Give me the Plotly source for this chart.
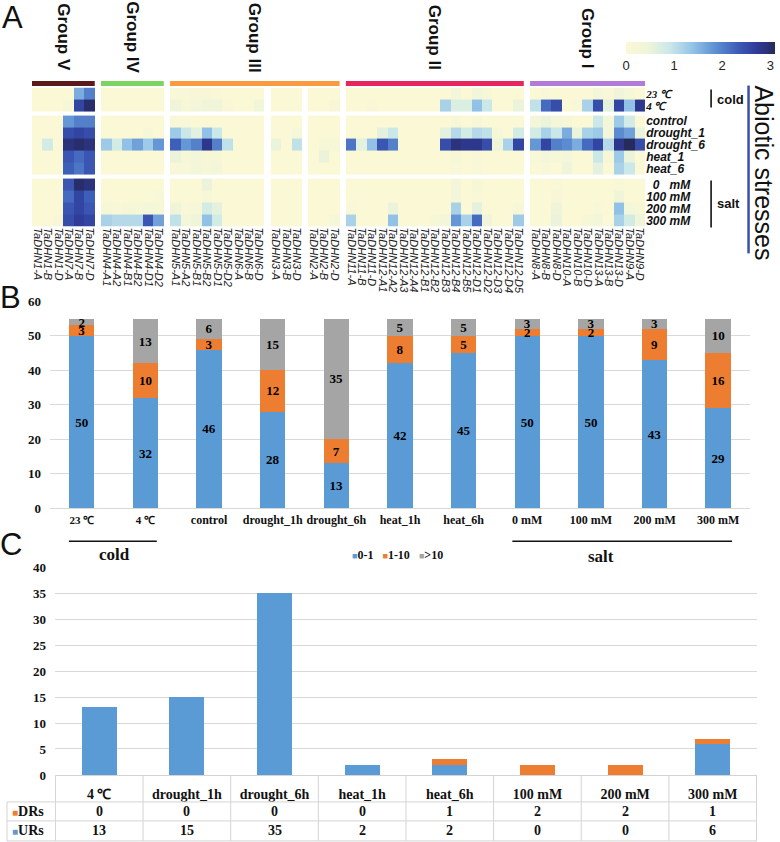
import plotly.graph_objects as go

W, H = 780, 842
SANS = "Liberation Sans, Arial, sans-serif"
SERIF = "Liberation Serif, Times New Roman, serif"

# ---------------- Panel A data ----------------
group_names = ["Group V", "Group IV", "Group III", "Group II", "Group I"]
group_colors = ["#5a1a1c", "#7ed462", "#f79a40", "#e8265e", "#b07cd8"]
genes_V = ["TaDHN1-A", "TaDHN1-B", "TaDHN1-D", "TaDHN7-A", "TaDHN7-B", "TaDHN7-D"]
genes_IV = ["TaDHN4-A1", "TaDHN4-A2", "TaDHN4-B1", "TaDHN4-B2", "TaDHN4-D1", "TaDHN4-D2"]
genes_III_a = ["TaDHN5-A1", "TaDHN5-A2", "TaDHN5-B1", "TaDHN5-B2", "TaDHN5-D1", "TaDHN5-D2",
               "TaDHN6-A", "TaDHN6-B", "TaDHN6-D"]
genes_III_b = ["TaDHN3-A", "TaDHN3-B", "TaDHN3-D"]
genes_III_c = ["TaDHN2-A", "TaDHN2-B", "TaDHN2-D"]
genes_II = ["TaDHN11-A", "TaDHN11-B", "TaDHN11-D", "TaDHN12-A1", "TaDHN12-A2", "TaDHN12-A3",
            "TaDHN12-A4", "TaDHN12-B1", "TaDHN12-B2", "TaDHN12-B3", "TaDHN12-B4", "TaDHN12-B5",
            "TaDHN12-D1", "TaDHN12-D2", "TaDHN12-D3", "TaDHN12-D4", "TaDHN12-D5"]
genes_I = ["TaDHN8-A", "TaDHN8-B", "TaDHN8-D", "TaDHN10-A", "TaDHN10-B", "TaDHN10-D",
           "TaDHN13-A", "TaDHN13-B", "TaDHN13-D", "TaDHN9-A", "TaDHN9-D"]
gene_blocks = [genes_V, genes_IV, genes_III_a, genes_III_b, genes_III_c, genes_II, genes_I]
block_group = [0, 1, 2, 2, 2, 3, 4]

conditions = ["23 ℃", "4 ℃", "control", "drought_1", "drought_6", "heat_1", "heat_6",
              "0 mM", "100 mM", "200 mM", "300 mM"]
row_blocks = [2, 5, 4]

#          V                            IV                          III-a                                      III-b        III-c          II                                                                              I
v_23C = [0, 0, 0, 0, 1.6, 2.0] + [0, 0, 0, 0, 0, 0] + [0.1, 0.1, 0.15, 0.15, 0.1, 0, 0, 0, 0] + [0, 0, 0] + [0, 0, 0] + [0, 0, 0, 0, 0, 0, 0, 0, 0, 0, 0.3, 0, 0.35, 0.2, 0, 0, 0] + [0, 0.1, 0, 0, 0, 0, 0.3, 0.1, 0.4, 0.2, 0]
v_4C = [0, 0, 0, 0.2, 2.6, 3.0] + [0, 0, 0, 0, 0, 0] + [0.4, 0.2, 0.3, 0.4, 0.4, 0.1, 0, 0, 0.35] + [0, 0, 0] + [0, 0, 0.15] + [0, 0, 0.1, 0, 0, 0, 0, 0, 0, 1.2, 0.7, 0.7, 1.4, 0.9, 0, 0, 0.5] + [1.0, 2.2, 2.5, 0, 0.1, 1.2, 2.5, 0.6, 2.6, 1.4, 2.8]
v_control = [0, 0, 0, 1.8, 2.0, 2.0] + [0, 0, 0, 0, 0, 0] + [0.1, 0.1, 0, 0, 0, 0, 0, 0, 0] + [0, 0, 0] + [0, 0, 0] + [0, 0, 0, 0, 0, 0, 0, 0, 0, 0, 0.2, 0, 0.15, 0, 0, 0, 0] + [0.3, 0.5, 0.3, 0.2, 0, 0, 0.9, 0.3, 1.3, 0.8, 0]
v_drought1 = [0, 0, 0, 2.5, 2.6, 2.5] + [0, 0, 0, 0, 0.2, 0] + [1.3, 0.9, 0.6, 1.4, 0.9, 0, 0, 0, 0] + [0, 0, 0.2] + [0, 0, 0] + [0, 0, 0, 0.6, 0.9, 0, 0, 0, 0, 0.6, 1.1, 0.8, 1.1, 1.0, 0.2, 0, 0.8] + [0.8, 1.2, 0.9, 1.6, 0.5, 1.2, 1.3, 0.3, 1.9, 1.7, 0.5]
v_drought6 = [0, 0.8, 0, 2.9, 3.0, 2.9] + [1.3, 0.8, 1.4, 1.7, 1.3, 1.8] + [2.3, 1.8, 2.0, 2.8, 2.0, 1.0, 0, 0, 0] + [0.5, 0, 1.0] + [0, 0.2, 0.2] + [2.1, 0.6, 1.4, 2.4, 2.0, 0, 0, 0, 0, 2.5, 2.9, 2.8, 2.8, 2.5, 0.4, 1.2, 2.6] + [1.8, 2.6, 2.0, 1.9, 1.6, 2.2, 2.6, 1.1, 2.8, 3.1, 2.5]
v_heat1 = [0, 0, 0, 2.4, 2.2, 2.4] + [0, 0, 0, 0, 0, 0] + [0.5, 0.2, 0.3, 0.2, 0.2, 0, 0, 0, 0] + [0, 0, 0] + [0, 0.5, 0] + [0, 0, 0, 0, 0, 0, 0, 0, 0, 0, 0.2, 0, 0.1, 0, 0, 0, 0] + [0.1, 0.3, 0.2, 0.3, 0, 0, 0.9, 0.2, 1.3, 0.5, 0]
v_heat6 = [0, 0, 0, 2.3, 2.1, 2.4] + [0, 0, 0, 0, 0, 0] + [0.1, 0.1, 0.3, 0.2, 0.3, 0, 0, 0, 0] + [0, 0, 0] + [0, 0, 0] + [0, 0, 0, 0, 0, 0, 0, 0, 0, 0, 0.1, 0, 0.1, 0, 0, 0, 0] + [0, 0.1, 0, 0.4, 0, 0, 0.6, 0, 1.2, 0.9, 0]
v_salt0 = [0, 0, 0, 2.4, 3.0, 2.9] + [0, 0, 0, 0, 0, 0] + [0, 0, 0, 0.5, 0, 0, 0, 0, 0] + [0, 0, 0] + [0, 0, 0] + [0, 0, 0, 0, 0, 0, 0, 0, 0, 0, 0.3, 0, 0.2, 0, 0, 0, 0] + [0, 0, 0.1, 0, 0, 0, 0, 0, 0.1, 0, 0]
v_salt100 = [0, 0, 0, 2.2, 2.6, 2.3] + [0, 0, 0, 0, 0, 0.1] + [0, 0, 0, 0.2, 0, 0, 0, 0, 0] + [0, 0, 0] + [0, 0, 0] + [0, 0, 0, 0, 0, 0, 0, 0, 0, 0, 0.3, 0, 0.1, 0, 0, 0, 0] + [0, 0, 0.15, 0, 0, 0, 0, 0, 0.4, 0, 0]
v_salt200 = [0, 0, 0, 2.4, 2.6, 2.4] + [0.2, 0.1, 0.2, 0.2, 0.3, 0.2] + [0.4, 0.1, 0.2, 0.8, 0.6, 0, 0, 0, 0] + [0, 0, 0] + [0, 0, 0] + [0.1, 0, 0, 0, 0.5, 0, 0, 0, 0, 0, 1.2, 0, 0.6, 0, 0, 0, 0.2] + [0, 0, 0.4, 0, 0, 0, 0.1, 0, 1.4, 0.3, 0.2]
v_salt300 = [0, 0, 0.1, 2.5, 2.7, 2.6] + [1.2, 1.1, 1.1, 1.1, 2.4, 1.7] + [1.0, 0.3, 0.4, 1.4, 0.8, 0, 0, 0, 0] + [0, 0, 0] + [0, 0, 0.2] + [1.2, 0, 0, 0, 1.4, 0, 0, 0, 0.2, 0.3, 1.8, 1.2, 2.2, 0.4, 0, 0, 1.3] + [0, 0, 0.5, 0, 0, 0.2, 0.3, 0, 1.2, 0.8, 0.4]
row_values = [v_23C, v_4C, v_control, v_drought1, v_drought6, v_heat1, v_heat6,
              v_salt0, v_salt100, v_salt200, v_salt300]

heat_colorscale = [[0.0, "#fbf8d6"], [0.15, "#eef5d9"], [0.3, "#c9e7ea"], [0.45, "#92c2e6"],
                   [0.6, "#5e8fd2"], [0.75, "#3c5cb8"], [0.88, "#2f3a98"], [1.0, "#262a5c"]]

# ---------------- Panel B data ----------------
b_categories = ["23 ℃", "4 ℃", "control", "drought_1h", "drought_6h", "heat_1h", "heat_6h",
                "0 mM", "100 mM", "200 mM", "300 mM"]
b_low = [50, 32, 46, 28, 13, 42, 45, 50, 50, 43, 29]      # 0-1
b_mid = [3, 10, 3, 12, 7, 8, 5, 2, 2, 9, 16]              # 1-10
b_high = [2, 13, 6, 15, 35, 5, 5, 3, 3, 3, 10]            # >10
b_names = ["0-1", "1-10", ">10"]

# ---------------- Panel C data ----------------
c_categories = ["4 ℃", "drought_1h", "drought_6h", "heat_1h", "heat_6h", "100 mM", "200 mM", "300 mM"]
c_URs = [13, 15, 35, 2, 2, 0, 0, 6]
c_DRs = [0, 0, 0, 0, 1, 2, 2, 1]

BLUE, ORANGE, GRAY = "#5b9bd5", "#ed7d31", "#a5a5a5"

# vertical calibration of the rendered page (observed: screen_y ~ 0.983 * y + 6.4)
V_SCALE, V_SHIFT = 0.983, 6.4


def px(x):
    return min(1.0, max(0.0, x / W))


def py(y, clamp=True):
    v = 1 - ((y - V_SHIFT) / V_SCALE) / H
    return min(1.0, max(0.0, v)) if clamp else v


# ---------- build heatmap geometry (cell edges with narrow gaps) ----------
col_w, col_gap = 1.0, 0.6
x_edges = [0.0]
col_map = []
gene_centers, gene_labels, block_spans = [], [], []
pos = 0.0
ci = 0
for bi, genes in enumerate(gene_blocks):
    if bi > 0:
        pos += col_gap
        x_edges.append(pos)
        col_map.append(None)
    start = pos
    for g in genes:
        gene_centers.append(pos + col_w / 2)
        gene_labels.append("<i>" + g + "</i>")
        pos += col_w
        x_edges.append(pos)
        col_map.append(ci)
        ci += 1
    block_spans.append((start, pos))
x_total = pos

row_h, row_gap = 1.0, 0.3
y_edges = [0.0]
row_map = []
row_centers = []
pos = 0.0
ri = 0
for bi, n in enumerate(row_blocks):
    if bi > 0:
        pos += row_gap
        y_edges.append(pos)
        row_map.append(None)
    for _ in range(n):
        row_centers.append(pos + row_h / 2)
        pos += row_h
        y_edges.append(pos)
        row_map.append(ri)
        ri += 1
y_total = pos

z = []
for r in row_map:
    if r is None:
        z.append([None] * len(col_map))
    else:
        z.append([row_values[r][c] if c is not None else None for c in col_map])

row_ticktext = []
for c in conditions:
    if "℃" in c:
        row_ticktext.append("<span style='font-family:Liberation Serif;font-size:11px'><b><i>" + c + "</i></b></span>")
    elif c == "0 mM":
        row_ticktext.append("<b><i>\u00a0\u00a00\u00a0\u00a0\u00a0mM</i></b>")
    else:
        row_ticktext.append("<b><i>" + c + "</i></b>")

fig = go.Figure()

fig.add_trace(go.Heatmap(
    z=z, x=x_edges, y=y_edges, zmin=0, zmax=3.1, colorscale=heat_colorscale,
    hoverongaps=False, xaxis="x", yaxis="y",
    colorbar=dict(orientation="h", x=px(701.5), xanchor="center", y=py(41), yanchor="top",
                  len=149 / W, lenmode="fraction", thickness=12, outlinewidth=0,
                  xpad=0, ypad=0, tickvals=[0, 1, 2, 3], ticks="",
                  tickfont=dict(family=SANS, size=13, color="#222")),
))

# ---------- Panel B stacked bars ----------
b_ticktext = []
for c in b_categories:
    if "℃" in c:
        b_ticktext.append("<span style='font-size:11px'><b>" + c + "</b></span>")
    else:
        b_ticktext.append("<b>" + c + "</b>")

for vals, name, col in zip([b_low, b_mid, b_high], b_names, [BLUE, ORANGE, GRAY]):
    fig.add_trace(go.Bar(
        x=b_categories, y=vals, name=name, marker=dict(color=col, line=dict(width=0)),
        xaxis="x2", yaxis="y2", text=vals, texttemplate="%{text}", textposition="inside",
        insidetextanchor="middle", textangle=0, constraintext="none", cliponaxis=False,
        insidetextfont=dict(family=SERIF, size=13, color="black", weight="bold"),
        showlegend=False,
    ))

# ---------- Panel C stacked bars ----------
for vals, name, col in zip([c_URs, c_DRs], ["URs", "DRs"], [BLUE, ORANGE]):
    fig.add_trace(go.Bar(
        x=c_categories, y=vals, name=name, marker=dict(color=col, line=dict(width=0)),
        xaxis="x3", yaxis="y3", showlegend=False,
    ))

shapes = []
annotations = []

# ---------- Panel C data table ----------
tbl_line = "#d4d4d4"
t_top, t_head, t_mid, t_bot = 775, 802, 821, 841
t_left, t_right = 7, 758
for yy in [t_head, t_mid, t_bot]:
    shapes.append(dict(type="line", xref="paper", yref="paper", x0=px(t_left), x1=px(t_right),
                       y0=py(yy, False), y1=py(yy, False), line=dict(color=tbl_line, width=1)))
shapes.append(dict(type="line", xref="paper", yref="paper", x0=px(t_left), x1=px(t_left),
                   y0=py(t_head, False), y1=py(t_bot, False), line=dict(color=tbl_line, width=1)))
for i in range(len(c_categories) + 1):
    shapes.append(dict(type="line", xref="x3", yref="paper", x0=i - 0.5, x1=i - 0.5,
                       y0=py(t_top, False), y1=py(t_bot, False), line=dict(color=tbl_line, width=1)))
row_key = [("DRs", ORANGE, c_DRs, (t_head + t_mid) / 2), ("URs", BLUE, c_URs, (t_mid + t_bot) / 2)]
for lbl, col, vals, yy in row_key:
    annotations.append(dict(text="<span style='color:%s;font-size:10px'>■</span><b>%s</b>" % (col, lbl),
                            x=px(t_left + 3), y=py(yy, False), xref="paper", yref="paper",
                            xanchor="left", yanchor="middle", showarrow=False,
                            font=dict(family=SERIF, size=14, color="#111")))
    for cat, v in zip(c_categories, vals):
        annotations.append(dict(text="<b>%d</b>" % v, x=cat, xref="x3", y=py(yy, False), yref="paper",
                                xanchor="center", yanchor="middle", showarrow=False,
                                font=dict(family=SERIF, size=14, color="#111")))

# group colour bars and labels
for gi, (gname, gcol) in enumerate(zip(group_names, group_colors)):
    spans = [block_spans[b] for b in range(len(gene_blocks)) if block_group[b] == gi]
    x0 = min(s[0] for s in spans)
    x1 = max(s[1] for s in spans)
    shapes.append(dict(type="rect", xref="x", yref="paper", x0=x0, x1=x1,
                       y0=py(85.5), y1=py(80.5), fillcolor=gcol, line=dict(width=0)))
    annotations.append(dict(text="<b>" + gname + "</b>", x=(x0 + x1) / 2, xref="x",
                            y=py(37, False), yref="paper", textangle=90, showarrow=False,
                            xanchor="center", yanchor="middle",
                            font=dict(family=SANS, size=17, color="#111")))

# cold / salt brackets (panel A)
shapes.append(dict(type="line", xref="paper", yref="paper", x0=px(712), x1=px(712),
                   y0=py(89), y1=py(107), line=dict(color="#111", width=1.6)))
shapes.append(dict(type="line", xref="paper", yref="paper", x0=px(712), x1=px(712),
                   y0=py(180), y1=py(227), line=dict(color="#111", width=1.6)))
annotations.append(dict(text="<b>cold</b>", x=px(716), y=py(99), xref="paper", yref="paper",
                        xanchor="left", yanchor="middle", showarrow=False,
                        font=dict(family=SANS, size=13, color="#111")))
annotations.append(dict(text="<b>salt</b>", x=px(716), y=py(203), xref="paper", yref="paper",
                        xanchor="left", yanchor="middle", showarrow=False,
                        font=dict(family=SANS, size=13, color="#111")))
# Abiotic stresses
shapes.append(dict(type="line", xref="paper", yref="paper", x0=px(749.5), x1=px(749.5),
                   y0=py(85), y1=py(253), line=dict(color="#3a4fa8", width=2.5)))
annotations.append(dict(text="Abiotic stresses", x=px(765), y=py(172), xref="paper", yref="paper",
                        textangle=90, xanchor="center", yanchor="middle", showarrow=False,
                        font=dict(family=SANS, size=25, color="#111")))

# panel letters
for letter, lx, ly in [("A", 13, 17), ("B", 11, 297), ("C", 11, 544)]:
    annotations.append(dict(text=letter, x=px(lx), y=py(ly, False), xref="paper", yref="paper",
                            xanchor="center", yanchor="middle", showarrow=False,
                            font=dict(family=SANS, size=31, color="#111")))

# panel B brackets
shapes.append(dict(type="line", xref="paper", yref="paper", x0=px(69), x1=px(157),
                   y0=py(541), y1=py(541), line=dict(color="#111", width=1.5)))
shapes.append(dict(type="line", xref="paper", yref="paper", x0=px(513), x1=px(733),
                   y0=py(541), y1=py(541), line=dict(color="#111", width=1.5)))
annotations.append(dict(text="<b>cold</b>", x=px(115), y=py(554), xref="paper", yref="paper",
                        xanchor="center", yanchor="middle", showarrow=False,
                        font=dict(family=SERIF, size=17, color="#111")))
annotations.append(dict(text="<b>salt</b>", x=px(602), y=py(556), xref="paper", yref="paper",
                        xanchor="center", yanchor="middle", showarrow=False,
                        font=dict(family=SERIF, size=17, color="#111")))
# panel B legend
leg_parts = []
for name, col in zip(b_names, [BLUE, ORANGE, GRAY]):
    leg_parts.append("<span style='color:%s;font-size:9px'>■</span><b>%s</b>" % (col, name.replace(">", "&gt;")))
annotations.append(dict(text="\u00a0\u00a0\u00a0".join(leg_parts), x=px(350), y=py(555),
                        xref="paper", yref="paper", xanchor="left", yanchor="middle",
                        showarrow=False, font=dict(family=SERIF, size=12, color="#111")))

grid = "#d9d9d9"
tickfont_serif = dict(family=SERIF, size=13, color="#111", weight="bold")

fig.update_layout(
    width=W, height=H, margin=dict(l=0, r=0, t=0, b=0),
    paper_bgcolor="white", plot_bgcolor="white",
    barmode="stack", bargap=0.6,
    uniformtext=dict(minsize=13, mode="show"),
    shapes=shapes, annotations=annotations,
    # heatmap axes
    xaxis=dict(domain=[px(32), px(646)], range=[0, x_total], anchor="y",
               tickvals=gene_centers, ticktext=gene_labels, tickangle=90, ticks="",
               showgrid=False, zeroline=False, showline=False, ticklabelstandoff=0,
               tickfont=dict(family=SANS, size=11, color="#222")),
    yaxis=dict(domain=[py(226), py(87)], range=[y_total, 0], anchor="x", side="right",
               tickvals=row_centers, ticktext=row_ticktext, ticks="",
               showgrid=False, zeroline=False, showline=False,
               tickfont=dict(family=SANS, size=12, color="#111")),
    # panel B axes
    xaxis2=dict(domain=[px(50), px(751)], anchor="y2", type="category",
                tickvals=b_categories, ticktext=b_ticktext, tickangle=0, ticks="",
                showline=True, linecolor=grid, linewidth=1, showgrid=False,
                tickfont=dict(family=SERIF, size=12, color="#111")),
    yaxis2=dict(domain=[py(508), py(301)], anchor="x2", range=[0, 60], dtick=10,
                showgrid=True, gridcolor=grid, zeroline=False, showline=False, ticks="",
                ticklabelstandoff=8, tickfont=tickfont_serif),
    # panel C axes (tick labels form the table header row)
    xaxis3=dict(domain=[px(55), px(758)], anchor="y3", type="category",
                tickvals=c_categories, ticktext=["<b>" + c + "</b>" for c in c_categories],
                tickangle=0, ticks="", ticklabelstandoff=6,
                tickfont=dict(family=SERIF, size=14, color="#111"),
                showline=True, linecolor=tbl_line, linewidth=1, showgrid=False),
    yaxis3=dict(domain=[py(775), py(567)], anchor="x3", range=[0, 40], dtick=5,
                showgrid=True, gridcolor=grid, zeroline=False, showline=False, ticks="",
                ticklabelstandoff=8, tickfont=tickfont_serif),
)

fig.write_html("out.html", config={"displayModeBar": False},
               post_script="document.body.style.margin='0px';document.body.style.overflow='hidden';")
